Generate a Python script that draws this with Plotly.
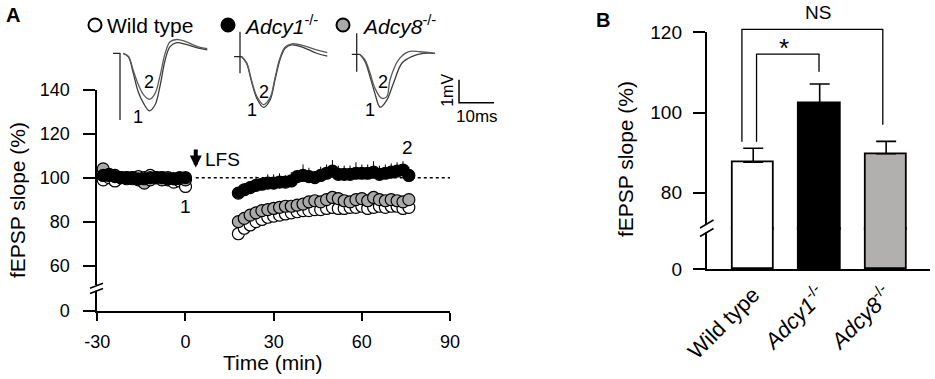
import plotly.graph_objects as go

W, H = 935, 379
FONT = "Liberation Sans, Arial, sans-serif"

# ---------------- Panel A data (time course, fEPSP slope %) ----------------
time_base = [-28, -26, -24, -22, -20, -18, -16, -14, -12, -10, -8, -6, -4, -2, 0]
time_post = [18, 20, 22, 24, 26, 28, 30, 32, 34, 36, 38, 40, 42, 44, 46,
             48, 50, 52, 54, 56, 58, 60, 62, 64, 66, 68, 70, 72, 74, 76]

wt_base = [99, 100, 98.5, 100, 100, 99.5, 100.5, 100, 101, 100, 100, 99, 98, 98.5, 96]
wt_post = [74.5, 77, 78.5, 80, 81, 82, 82.5, 83, 83.5, 84, 84.5, 85, 85, 85.5, 85.5,
           86, 86.5, 86, 86, 86.5, 86.5, 87, 86, 86.5, 87, 86.5, 87, 87, 86, 86.5]

adcy1_base = [101, 101, 100.5, 100, 100, 100, 99.5, 99.5, 100, 100, 100, 99.5, 99.5, 100, 100]
adcy1_post = [93, 94.5, 95.5, 96.5, 97, 97.5, 97.5, 98, 98, 98.5, 100.5, 101, 100.5, 100, 101,
              102, 103, 101.5, 101.5, 101.5, 102, 102, 102, 102.5, 101.5, 102, 102.5, 103, 103.5, 101]
adcy1_err_base = [1.5, 1.5, 1.5, 1.5, 1.5, 1.5, 1.5, 1.5, 1.5, 1.5, 1.5, 1.5, 1.5, 1.5, 1.5]
adcy1_err_post = [2, 3, 3, 4, 3, 4, 4, 4, 3, 4, 3, 5, 4, 3, 4,
                  4, 5, 4, 4, 4, 5, 4, 4, 5, 4, 4, 4, 4, 4, 4]

adcy8_base = [104, 101.5, 101, 100, 99.5, 100, 99, 97.5, 99, 100, 99, 100, 99.5, 99.5, 99]
adcy8_post = [80, 81.5, 83, 84, 85, 85.5, 86, 86.5, 87, 87, 87.5, 88, 89, 89.5, 89,
              90, 91, 90.5, 89.5, 89, 90, 90.5, 89.5, 91, 90, 89.5, 90, 89.5, 89, 90]

series_names = ["Wild type", "<i>Adcy1</i><sup>-/-</sup>", "<i>Adcy8</i><sup>-/-</sup>"]
series_fill = ["white", "black", "#a9a9a9"]
lfs_time = 3.5
baseline_level = 100
a_yticks = [60, 80, 100, 120, 140]
a_xticks = [-30, 0, 30, 60, 90]
a_xticklabels = ["-30", "0", "30", "60", "90"]

# ---------------- Panel B data (mean fEPSP slope %) ----------------
groups = ["Wild type", "<i>Adcy1</i><sup>-/-</sup>", "<i>Adcy8</i><sup>-/-</sup>"]
bar_means = [87.6, 102.2, 89.7]
bar_sem = [3.5, 4.9, 3.1]
bar_colors = ["white", "black", "#b2afaf"]
b_yticks = [80, 100, 120]
star_bracket_x = [0.05, 0.05, 0.99, 0.99]
star_bracket_y = [92.7, 114.5, 114.5, 110.1]
ns_bracket_x = [-0.17, -0.17, 1.95, 1.95]
ns_bracket_y = [92.7, 120.7, 120.7, 96.9]

# ---------------- Inset traces (ms, mV) ----------------
wt_ms = [0.9, 2.4, 3.8, 5.2, 6.7, 8.4, 10.0, 11.4, 12.9, 14.3, 16.2, 18.6, 22.4, 25.0]
wt_tr1 = [0, -0.15, -0.87, -1.67, -2.17, -2.5, -2.25, -1.45, -0.29, 0.29, 0.46, 0.40, 0.22, 0.15]
wt_tr2 = [0, -0.13, -0.75, -1.35, -1.8, -2.0, -1.75, -1.0, 0.0, 0.5, 0.6, 0.52, 0.28, 0.2]
wt_art_ms = [-2.0, 0, 0]
wt_art_mv = [0, 0, -2.9]

a1_ms = [0.5, 1.9, 3.3, 4.8, 6.7, 8.6, 10.0, 11.4, 12.9, 14.8, 17.6, 21.9, 25.0]
a1_tr1 = [0, -0.29, -1.09, -1.81, -2.2, -1.88, -1.01, -0.14, 0.37, 0.51, 0.43, 0.15, 0.02]
a1_tr2 = [0, -0.27, -1.03, -1.72, -2.08, -1.78, -0.92, -0.07, 0.42, 0.56, 0.5, 0.3, 0.18]
a1_art_ms = [0, 0]
a1_art_mv = [1.09, -0.72]
a1_base_ms = [-1.7, 0.5]
a1_base_mv = [0, 0]

a8_ms1 = [0.9, 2.4, 3.8, 5.2, 6.7, 8.6, 10.5, 12.9, 15.7, 19.0, 22.4]
a8_tr1 = [0, -0.32, -0.97, -1.7, -2.3, -1.99, -1.26, -0.39, -0.1, 0.04, 0.04]
a8_ms2 = [0.9, 2.4, 3.8, 5.2, 7.1, 8.6, 9.5, 11.9, 14.7, 18.1, 22.4]
a8_tr2 = [0, -0.25, -0.81, -1.47, -1.91, -1.84, -1.12, -0.25, 0.11, 0.11, 0.04]
a8_art_ms = [0, 0]
a8_art_mv = [0.91, -0.76]
a8_base_ms = [-1.4, 0.9]
a8_base_mv = [0, 0]

scale_ms = [0, 0, 10]
scale_mv = [1, 0, 0]


def px_x(p):
    return p / W


def px_y(p):
    return 1 - p / H


fig = go.Figure()

# ---- Panel A traces (draw order: WT, Adcy8, Adcy1) ----
mk = dict(size=12, line=dict(color="black", width=1.2))
fig.add_trace(go.Scatter(
    x=time_base + time_post, y=wt_base + wt_post, mode="markers",
    name=series_names[0], marker=dict(color=series_fill[0], **mk),
    xaxis="x", yaxis="y", cliponaxis=False))
fig.add_trace(go.Scatter(
    x=time_base + time_post, y=adcy8_base + adcy8_post, mode="markers",
    name=series_names[2], marker=dict(color=series_fill[2], **mk),
    xaxis="x", yaxis="y", cliponaxis=False))
fig.add_trace(go.Scatter(
    x=time_base + time_post, y=adcy1_base + adcy1_post, mode="markers",
    name=series_names[1], marker=dict(color=series_fill[1], **mk),
    xaxis="x", yaxis="y", cliponaxis=False,
    error_y=dict(type="data", symmetric=False, array=adcy1_err_base + adcy1_err_post,
                 arrayminus=[0] * (len(time_base) + len(time_post)),
                 color="black", thickness=1, width=0)))
# empty trace so the lower (broken) segment of panel A's y axis is created
fig.add_trace(go.Scatter(x=[], y=[], mode="markers", xaxis="x", yaxis="y2", hoverinfo="skip"))

# ---- Panel B bars (upper and lower broken segments) ----
bx = list(range(len(groups)))
fig.add_trace(go.Bar(
    x=bx, y=bar_means, width=0.63, xaxis="x3", yaxis="y3",
    marker=dict(color=bar_colors, line=dict(color="black", width=1.8)),
    error_y=dict(type="data", symmetric=False, array=bar_sem, arrayminus=[0, 0, 0],
                 color="black", thickness=1.6, width=10)))
fig.add_trace(go.Bar(
    x=bx, y=bar_means, width=0.63, xaxis="x3", yaxis="y4",
    marker=dict(color=bar_colors, line=dict(color="black", width=1.8))))
for bxs, bys in [(star_bracket_x, star_bracket_y), (ns_bracket_x, ns_bracket_y)]:
    fig.add_trace(go.Scatter(x=bxs, y=bys, mode="lines", xaxis="x3", yaxis="y5",
                             line=dict(color="black", width=1.3), hoverinfo="skip"))

# ---- Insets ----
tr_line1 = dict(color="#3c3c3c", width=1.3, shape="spline", smoothing=1)
tr_line2 = dict(color="#5a5a5a", width=1.3, shape="spline", smoothing=1)
art_line = dict(color="#222222", width=1.3)
inset_sets = [
    ("x6", "y6", [(wt_ms, wt_tr1, tr_line1), (wt_ms, wt_tr2, tr_line2), (wt_art_ms, wt_art_mv, art_line)]),
    ("x7", "y7", [(a1_ms, a1_tr1, tr_line1), (a1_ms, a1_tr2, tr_line2), (a1_art_ms, a1_art_mv, art_line),
                  (a1_base_ms, a1_base_mv, art_line)]),
    ("x8", "y8", [(a8_ms1, a8_tr1, tr_line1), (a8_ms2, a8_tr2, tr_line2), (a8_art_ms, a8_art_mv, art_line),
                  (a8_base_ms, a8_base_mv, art_line)]),
    ("x9", "y9", [(scale_ms, scale_mv, dict(color="black", width=1.5))]),
]
for xa, ya, lines in inset_sets:
    for xs, ys, ln in lines:
        fig.add_trace(go.Scatter(x=xs, y=ys, mode="lines", xaxis=xa, yaxis=ya,
                                 line=ln, hoverinfo="skip"))

axis_common = dict(showgrid=False, zeroline=False, showline=True, linecolor="black",
                   linewidth=1.8, ticks="outside", tickcolor="black", tickwidth=1.8,
                   automargin=False,
                   tickfont=dict(family=FONT, size=18, color="black"))
fontB = dict(family=FONT, size=19, color="black")
hidden = dict(visible=False, fixedrange=True, automargin=False)

layout = dict(
    width=W, height=H, margin=dict(l=0, r=0, t=0, b=0, pad=0, autoexpand=False),
    paper_bgcolor="white", plot_bgcolor="rgba(0,0,0,0)",
    font=dict(family=FONT, color="black"),
    showlegend=False,
    bargap=0,
    xaxis=dict(domain=[px_x(97.3), px_x(450)], range=[-30, 90], anchor="y2",
               tickvals=a_xticks, ticktext=a_xticklabels, ticklen=8, ticklabelstandoff=5,
               **axis_common),
    yaxis=dict(domain=[px_y(285), px_y(89.7)], range=[51.2, 140], anchor="x",
               tickvals=a_yticks, ticklen=12, ticklabelstandoff=10, **axis_common),
    yaxis2=dict(domain=[px_y(311), px_y(291)], range=[0, 9.1], anchor="x",
                tickvals=[0], ticklen=12, ticklabelstandoff=10, **axis_common),
    xaxis3=dict(domain=[px_x(706.7), px_x(930)], range=[-0.7, 2.66], anchor="y4",
                tickvals=bx, ticktext=groups, tickangle=-45, ticklabelstandoff=2,
                **{**axis_common, "ticks": "",
                   "tickfont": dict(family=FONT, size=22, color="black")}),
    yaxis3=dict(domain=[px_y(230), px_y(32.3)], range=[70.7, 120], anchor="x3",
                tickvals=b_yticks, ticklen=12, ticklabelstandoff=7,
                **{**axis_common, "tickfont": fontB}),
    yaxis4=dict(domain=[px_y(269.3), px_y(227)], range=[0, 10.5], anchor="x3",
                tickvals=[0], ticklen=12, ticklabelstandoff=7,
                **{**axis_common, "tickfont": fontB}),
    yaxis5=dict(domain=[px_y(230), 1.0], range=[70.7, 128.0], anchor="x3", **hidden),
    xaxis6=dict(domain=[px_x(111.25), px_x(207.5)], range=[-2.5, 25], anchor="y6", **hidden),
    yaxis6=dict(domain=[px_y(126.9), px_y(23.4)], range=[-3.2, 1.3], anchor="x6", **hidden),
    xaxis7=dict(domain=[px_x(231.25), px_x(327.5)], range=[-2.5, 25], anchor="y7", **hidden),
    yaxis7=dict(domain=[px_y(130.3), px_y(26.8)], range=[-3.2, 1.3], anchor="x7", **hidden),
    xaxis8=dict(domain=[px_x(347.95), px_x(444.2)], range=[-2.5, 25], anchor="y8", **hidden),
    yaxis8=dict(domain=[px_y(127.9), px_y(24.4)], range=[-3.2, 1.3], anchor="x8", **hidden),
    xaxis9=dict(domain=[px_x(440), px_x(500)], range=[-5.43, 11.71], anchor="y9", **hidden),
    yaxis9=dict(domain=[px_y(125), px_y(70)], range=[-0.97, 1.42], anchor="x9", **hidden),
)
fig.update_layout(**layout)

# ---- shapes: dotted baseline, axis breaks, legend keys ----
shapes = [
    dict(type="line", xref="x", yref="y", x0=lfs_time, x1=90, y0=baseline_level, y1=baseline_level,
         line=dict(color="black", width=1.5, dash="dot"), layer="below"),
    # panel A break
    dict(type="line", xref="paper", yref="paper", x0=px_x(90), y0=px_y(288.3), x1=px_x(103), y1=px_y(283.3),
         line=dict(color="black", width=1.5)),
    dict(type="line", xref="paper", yref="paper", x0=px_x(90), y0=px_y(293.5), x1=px_x(103), y1=px_y(288.5),
         line=dict(color="black", width=1.5)),
    # panel B break
    dict(type="rect", xref="paper", yref="paper", x0=px_x(703.5), x1=px_x(710), y0=px_y(232.5), y1=px_y(224),
         fillcolor="white", line=dict(width=0)),
    dict(type="line", xref="paper", yref="paper", x0=px_x(700), y0=px_y(228), x1=px_x(713.5), y1=px_y(220),
         line=dict(color="black", width=1.5)),
    dict(type="line", xref="paper", yref="paper", x0=px_x(700), y0=px_y(236.5), x1=px_x(713.5), y1=px_y(228.5),
         line=dict(color="black", width=1.5)),
]
legend_key_x = [95, 228, 343]
legend_text_x = [105, 242, 360]
for kx, fill in zip(legend_key_x, series_fill):
    shapes.append(dict(type="circle", xref="paper", yref="paper",
                       x0=px_x(kx - 6.5), x1=px_x(kx + 6.5), y0=px_y(31.5), y1=px_y(18.5),
                       fillcolor=fill, line=dict(color="black", width=2)))
fig.update_layout(shapes=shapes)


def ann(text, x, y, xref="paper", yref="paper", size=18, **kw):
    d = dict(text=text, x=x, y=y, xref=xref, yref=yref, showarrow=False,
             xanchor="center", yanchor="middle",
             font=dict(family=FONT, size=size, color="black"))
    d.update(kw)
    return d


annotations = [
    ann("<b>A</b>", px_x(13), px_y(15), size=20),
    ann("<b>B</b>", px_x(603), px_y(20), size=20),
    ann("fEPSP slope (%)", px_x(17), px_y(200), size=21, textangle=-90),
    ann("fEPSP slope (%)", px_x(625), px_y(159), size=21, textangle=-90),
    ann("Time (min)", px_x(273), px_y(362), size=21),
    # LFS arrow + label
    dict(x=lfs_time, y=104.6, xref="x", yref="y", ax=lfs_time, ay=113.5, axref="x", ayref="y",
         text="", showarrow=True, arrowhead=2, arrowsize=0.6, arrowwidth=4, arrowcolor="black"),
    ann("LFS", 5.8, 108.2, xref="x", yref="y", size=19, xanchor="left"),
    ann("1", 0, 87, xref="x", yref="y", size=19),
    ann("2", 75.5, 113.5, xref="x", yref="y", size=19),
    # panel B significance
    ann("*", 0.47, 116.0, xref="x3", yref="y5", size=26),
    ann("NS", 0.98, 124.8, xref="x3", yref="y5", size=19),
    # inset labels
    ann("1", 5.2, -2.76, xref="x6", yref="y6", size=18),
    ann("2", 8.4, -1.23, xref="x6", yref="y6", size=18),
    ann("1", 3.3, -2.32, xref="x7", yref="y7", size=18),
    ann("2", 6.9, -1.52, xref="x7", yref="y7", size=18),
    ann("1", 3.8, -2.42, xref="x8", yref="y8", size=18),
    ann("2", 7.6, -1.19, xref="x8", yref="y8", size=18),
    ann("1mV", -3.5, 0.55, xref="x9", yref="y9", size=16, textangle=-90),
    ann("10ms", 5.1, -0.6, xref="x9", yref="y9", size=17),
]
for tx, name in zip(legend_text_x, series_names):
    annotations.append(ann(name, px_x(tx), px_y(25), size=21, xanchor="left"))
fig.update_layout(annotations=annotations)

fig.write_html("out.html", config={"displayModeBar": False},
               post_script="document.body.style.margin='0';document.body.style.overflow='hidden';")
